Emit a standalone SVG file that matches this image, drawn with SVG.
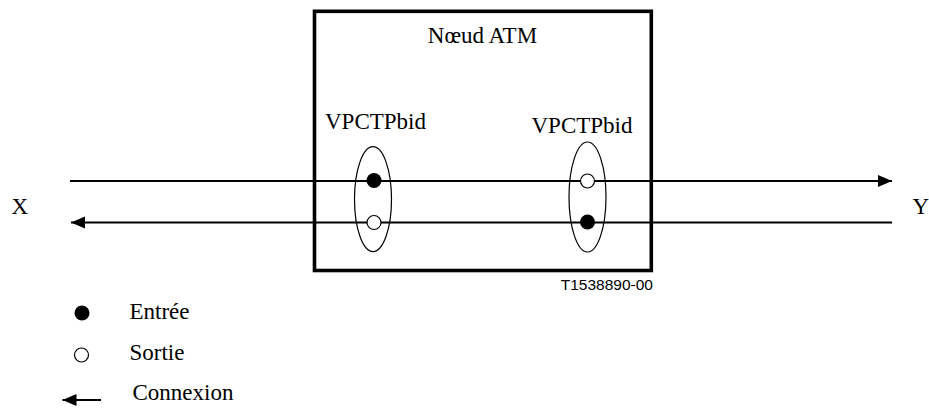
<svg xmlns="http://www.w3.org/2000/svg" width="929" height="408" viewBox="0 0 929 408">
<style>
.t{font-family:"Liberation Serif","Times New Roman","DejaVu Serif",serif;font-size:23px;fill:#000}
.s{font-family:"Liberation Sans",Arial,sans-serif;font-size:15.5px;fill:#000}
.ln{stroke:#000;stroke-width:2;fill:none}
.el{stroke:#000;stroke-width:1.2;fill:none}
.on{fill:#fff;stroke:#000;stroke-width:1.2}
.in{fill:#000}
</style>
<defs>
<marker id="ah" markerUnits="userSpaceOnUse" markerWidth="15" markerHeight="13" refX="14" refY="6" orient="auto">
<path d="M0,0 L14,6 L0,12 z" fill="#000"/>
</marker>
</defs>
<g id="node-atm">
<rect x="314.5" y="11.3" width="336.8" height="259.2" fill="none" stroke="#000" stroke-width="3.6"/>
<text class="t" x="482.5" y="43" text-anchor="middle">Nœud ATM</text>
<text class="s" x="653" y="290" text-anchor="end">T1538890-00</text>
</g>
<g id="connectors">
<line class="ln" x1="70" y1="181" x2="892" y2="181" marker-end="url(#ah)"/>
<line class="ln" x1="892" y1="222.5" x2="71" y2="222.5" marker-end="url(#ah)"/>
</g>
<g id="vpctp-left">
<text class="t" x="325" y="128.5">VPCTPbid</text>
<ellipse class="el" cx="373" cy="199.2" rx="18.5" ry="52.5"/>
<circle class="in" cx="374" cy="180.5" r="7.5"/>
<circle class="on" cx="374" cy="222.5" r="7"/>
</g>
<g id="vpctp-right">
<text class="t" x="531.5" y="132.5">VPCTPbid</text>
<ellipse class="el" cx="587.5" cy="197" rx="18.5" ry="55"/>
<circle class="on" cx="587.5" cy="181" r="7"/>
<circle class="in" cx="587.5" cy="222" r="7.5"/>
</g>
<g id="end-x"><text class="t" x="11.5" y="214">X</text></g>
<g id="end-y"><text class="t" x="912.5" y="214">Y</text></g>
<g id="legend">
<circle class="in" cx="82" cy="313" r="7.5"/>
<text class="t" x="129.5" y="318.5">Entrée</text>
<circle class="on" cx="81.5" cy="355" r="7"/>
<text class="t" x="129.5" y="360">Sortie</text>
<line class="ln" x1="101" y1="400" x2="62.5" y2="400" marker-end="url(#ah)"/>
<text class="t" x="132.5" y="400">Connexion</text>
</g>
</svg>
